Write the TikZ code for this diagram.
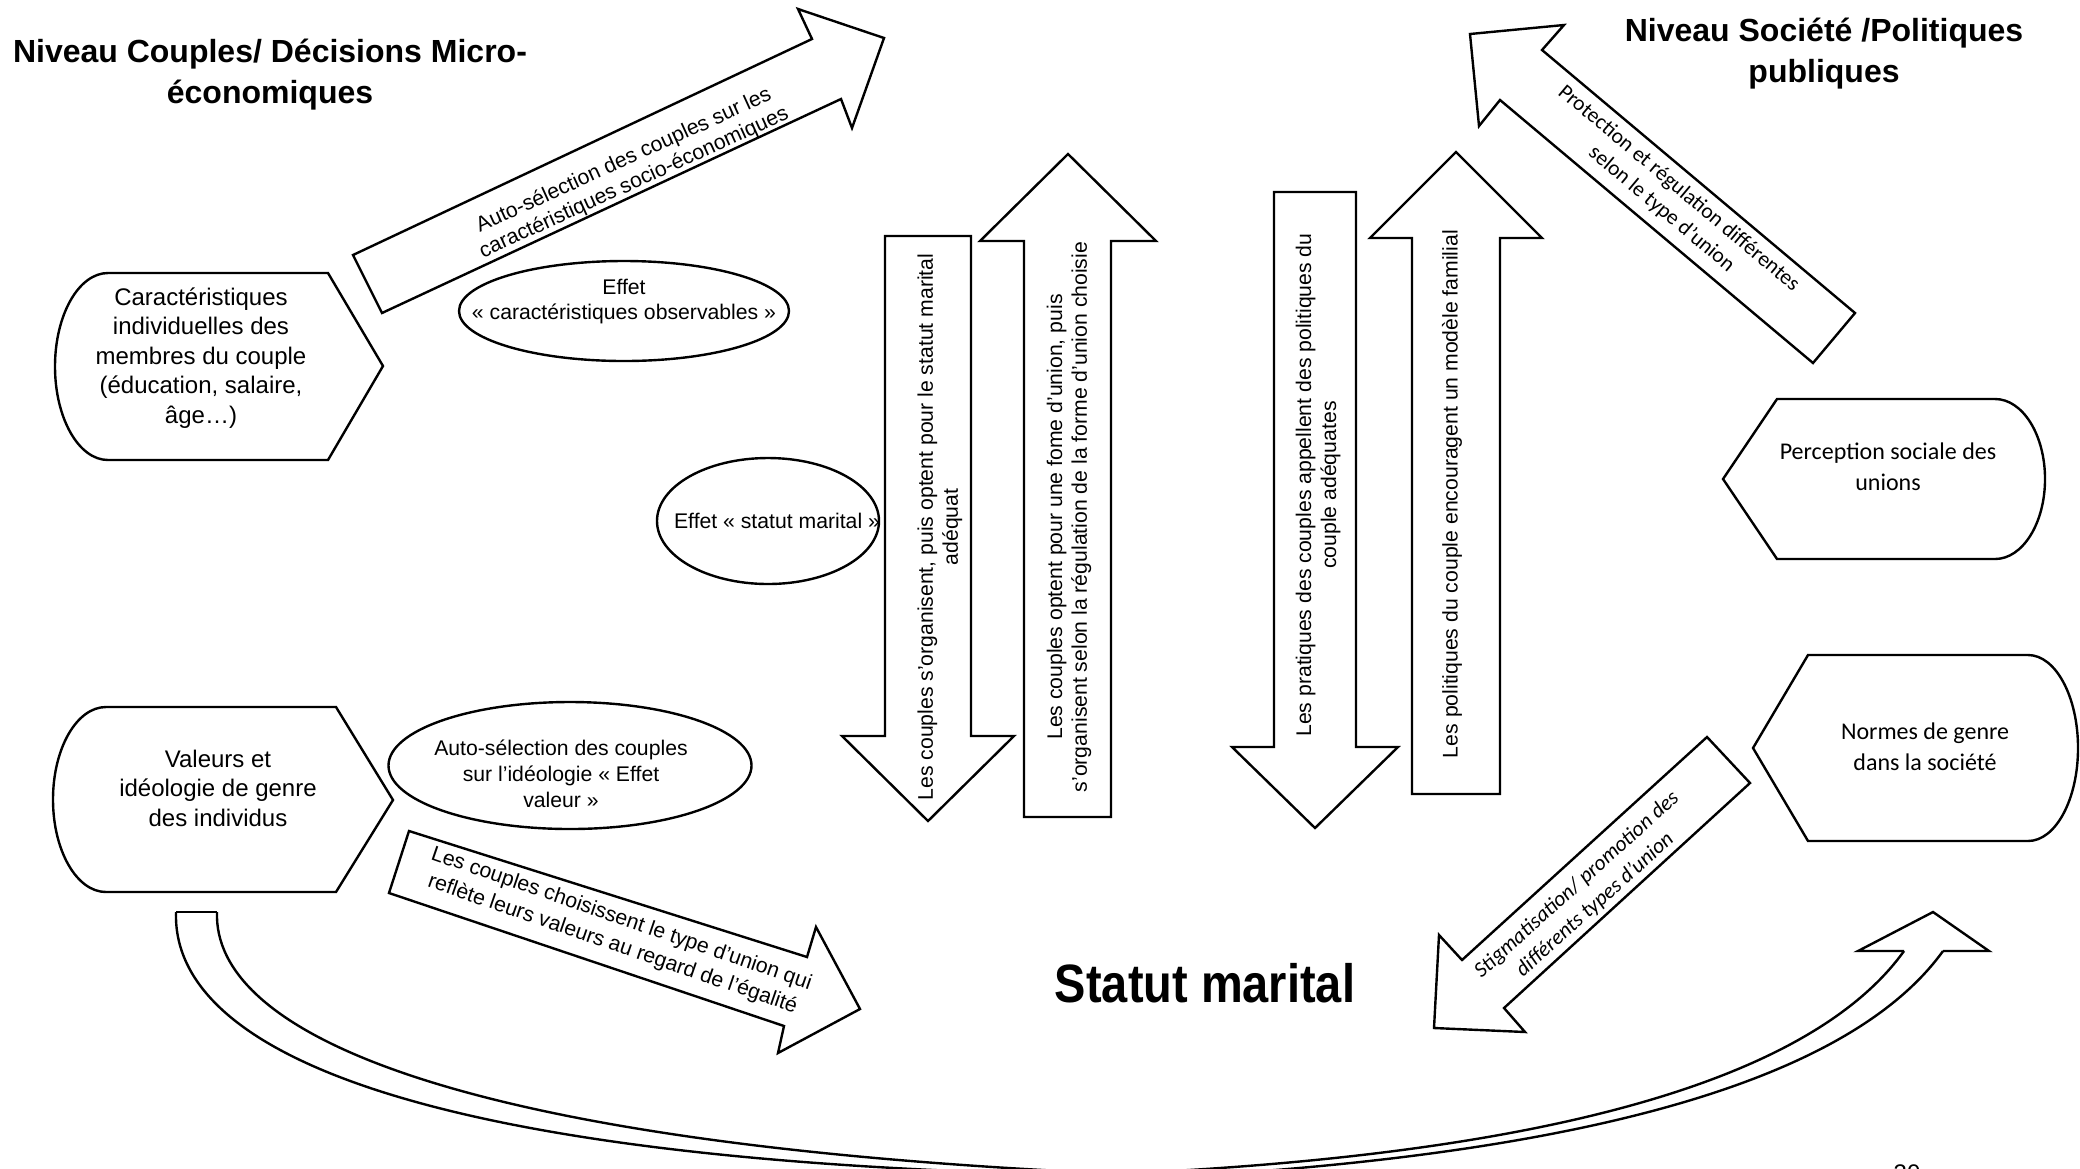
\documentclass[tikz,border=0pt]{standalone}
\usepackage{fontspec}
\usepackage{graphicx}
\setmainfont{Liberation Sans}
\newfontfamily\calibri{Carlito}
\usetikzlibrary{shapes.geometric}
\tikzset{
 blk/.style={draw=black, line width=1.2pt, fill=white, line join=miter},
 curv/.style={draw=black, line width=1.2pt},
 lbl/.style={font=\fontsize{10.6}{12.5}\selectfont, align=center, inner sep=0pt},
 boxt/.style={font=\fontsize{12}{14.75}\selectfont, align=center, inner sep=0pt},
 calt/.style={font=\calibri\fontsize{12}{15.5}\selectfont, align=center, inner sep=0pt},
 calsm/.style={font=\calibri\fontsize{10.8}{13.5}\selectfont, align=center, inner sep=0pt},
 ttl/.style={font=\bfseries\fontsize{16}{20.5}\selectfont, align=center, inner sep=0pt},
 ell/.style={ellipse, draw=black, line width=1.2pt, fill=white, inner sep=0pt},
}
\begin{document}
\begin{tikzpicture}[x=0.5pt,y=-0.5pt]
\useasboundingbox (0,0) rectangle (2080,1168);
\clip (0,0) rectangle (2080,1168);

% bottom curved double arrow
\draw[curv] (176,912) -- (217,912);
\draw[curv] (176,912) .. controls (172,1040) and (380,1160) .. (1080,1175);
\draw[curv] (217,912) .. controls (213,1030) and (440,1140) .. (1080,1172);
\draw[curv] (1943,951) .. controls (1850,1080) and (1580,1165) .. (1060,1182);
\draw[curv] (1904,951) .. controls (1815,1075) and (1560,1160) .. (1060,1176);
\draw[curv, line join=miter] (1904,951) -- (1858,951) -- (1933,912) -- (1989,951) -- (1943,951);

% titles
\node[ttl] (t1) at (270,75) {Niveau Couples/ Décisions Micro-\\économiques};
\node[ttl] (t2) at (1824,54) {Niveau Société /Politiques\\publiques};
\node[font=\bfseries\fontsize{27}{30}\selectfont, inner sep=0pt] (sm) at (1205,983) {\scalebox{0.87}[1]{Statut marital}};

% left boxes
\draw[blk] (108,273) -- (328,273) -- (383,366) -- (328,460) -- (108,460)
  .. controls (78.7,460) and (55,418.1) .. (55,366.5)
  .. controls (55,314.9) and (78.7,273) .. cycle;
\node[boxt] (b1t) at (201,358) {Caractéristiques\\individuelles des\\membres du couple\\(éducation, salaire,\\âge…)};

\draw[blk] (106,707) -- (336,707) -- (393,800) -- (336,892) -- (106,892)
  .. controls (76.7,892) and (53,850.6) .. (53,799.5)
  .. controls (53,748.4) and (76.7,707) .. cycle;
\node[boxt] (b2t) at (218,788) {Valeurs et\\idéologie de genre\\des individus};

% right boxes
\draw[blk] (1777,399) -- (1995,399) .. controls (2022.6,399) and (2045,434.8) .. (2045,479)
  .. controls (2045,523.2) and (2022.6,559) .. (1995,559) -- (1777,559) -- (1723,479) -- cycle;
\node[calt] (b3t) at (1888,467) {Perception sociale des\\unions};

\draw[blk] (1808,655) -- (2028,655) .. controls (2055.6,655) and (2078,696.6) .. (2078,748)
  .. controls (2078,799.4) and (2055.6,841) .. (2028,841) -- (1808,841) -- (1753,748) -- cycle;
\node[calt] (b4t) at (1925,747) {Normes de genre\\dans la société};

% ellipses
\node[ell, minimum width=165pt, minimum height=50pt] (e1) at (624,311) {};
\node[lbl] (e1t) at (624,302) {Effet\\« caractéristiques observables »};
\node[ell, minimum width=111pt, minimum height=63pt] (e2) at (768,521) {};
\node[lbl] (e2t) at (777,521) {Effet « statut marital »};
\node[ell, minimum width=181.5pt, minimum height=63.5pt] (e3) at (570,765.5) {};
\node[lbl, font=\fontsize{10.6}{13}\selectfont] (e3t) at (561,774) {Auto-sélection des couples\\sur l’idéologie « Effet\\valeur »};

% diagonal block arrows
\draw[blk] (353,255) -- (812,39) -- (798,9) -- (884,38) -- (852,128) -- (841,99) -- (382,313) -- cycle;
\node[lbl, rotate=24.5, font=\fontsize{10.6}{12.2}\selectfont] (a1t) at (629,172) {Auto-sélection des couples sur les\\caractéristiques socio-économiques};

\draw[blk] (1855,313) -- (1542,50) -- (1564,25) -- (1470,34) -- (1479,126) -- (1500,100) -- (1813,363) -- cycle;
\node[calsm, rotate=-40] (a2t) at (1670,199) {Protection et régulation différentes\\selon le type d’union};

\draw[blk] (409,831) -- (807,957) -- (816,927) -- (860,1009) -- (778,1053) -- (784,1026) -- (389,893) -- cycle;
\node[lbl, rotate=-19, font=\fontsize{10.6}{13.5}\selectfont] (a3t) at (617,932) {Les couples choisissent le type d’union qui\\reflète leurs valeurs au regard de l’égalité};

\draw[blk] (1707,737) -- (1462,960) -- (1439,935) -- (1434,1028) -- (1525,1032) -- (1504,1008) -- (1750,783) -- cycle;
\node[calsm, rotate=42, font=\calibri\itshape\fontsize{10.8}{13.5}\selectfont] (a4t) at (1586,895) {Stigmatisation/ promotion des\\différents types d’union};

% vertical block arrows
\draw[blk] (885,236) -- (971,236) -- (971,736) -- (1014,736) -- (928,821) -- (842,736) -- (885,736) -- cycle;
\node[lbl, rotate=90] (v1t) at (940,527) {Les couples s’organisent, puis optent pour le statut marital\\adéquat};

\draw[blk] (1068,154) -- (1156,241) -- (1111,241) -- (1111,817) -- (1024,817) -- (1024,241) -- (980,241) -- cycle;
\node[lbl, rotate=90] (v2t) at (1069,517) {Les couples optent pour une fome d’union, puis\\s’organisent selon la régulation de la forme d’union choisie};

\draw[blk] (1274,192) -- (1356,192) -- (1356,747) -- (1398,747) -- (1315,828) -- (1232,747) -- (1274,747) -- cycle;
\node[lbl, rotate=90] (v3t) at (1318,485) {Les pratiques des couples appellent des politiques du\\couple adéquates};

\draw[blk] (1456,152) -- (1542,238) -- (1500,238) -- (1500,794) -- (1412,794) -- (1412,238) -- (1370,238) -- cycle;
\node[lbl, rotate=90] (v4t) at (1452,494) {Les politiques du couple encouragent un modèle familial};

% page number (cut off)
\node[font=\fontsize{12}{14}\selectfont, anchor=north, inner sep=0pt] (pg) at (1907,1164) {30};
\end{tikzpicture}
\end{document}
